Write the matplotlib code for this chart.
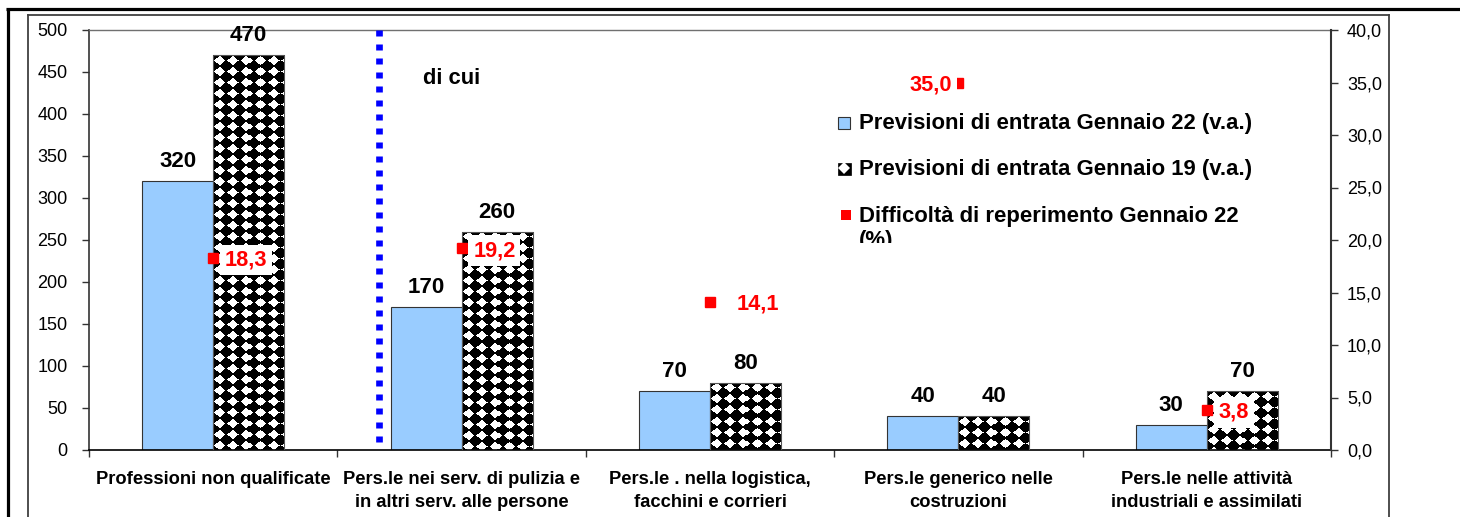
import numpy as np
import matplotlib
matplotlib.use('Agg')
import matplotlib.pyplot as plt
from matplotlib.patches import Rectangle
from matplotlib.lines import Line2D
from matplotlib.transforms import Bbox, TransformedBbox
from matplotlib.ticker import FixedLocator, FuncFormatter

plt.rcParams['font.family'] = ['Liberation Sans', 'DejaVu Sans']

# ---------------- data ----------------
categories = ["Professioni non qualificate",
              "Pers.le nei serv. di pulizia e\nin altri serv. alle persone",
              "Pers.le . nella logistica,\nfacchini e corrieri",
              "Pers.le generico nelle\ncostruzioni",
              "Pers.le nelle attività\nindustriali e assimilati"]
prev_gen22 = [320, 170, 70, 40, 30]
prev_gen19 = [470, 260, 80, 40, 70]
difficolta = [18.3, 19.2, 14.1, 35.0, 3.8]
left_ticks = [0, 50, 100, 150, 200, 250, 300, 350, 400, 450, 500]
right_ticks = [0, 5, 10, 15, 20, 25, 30, 35, 40]
series_labels = ["Previsioni di entrata Gennaio 22 (v.a.)",
                 "Previsioni di entrata Gennaio 19 (v.a.)",
                 "Difficoltà di reperimento Gennaio 22\n(%)"]
divider_text = "di cui"

# ---------------- layout helpers ----------------
W, H = 1460, 517
fig = plt.figure(figsize=(W / 100, H / 100), dpi=100)


def fx(px):
    return px / W


def fy(py):
    return 1 - py / H


BLUE = '#99CCFF'
RED = '#FF0000'

# outer decorative frames
fig.add_artist(Line2D([fx(6), 1], [fy(9), fy(9)], color='black', lw=2.3, solid_capstyle='butt'))
fig.add_artist(Line2D([fx(8), fx(8)], [fy(8), 0], color='black', lw=2.3, solid_capstyle='butt'))
fig.add_artist(Line2D([fx(28), fx(1389)], [fy(15), fy(15)], color='#404040', lw=1.3))
fig.add_artist(Line2D([fx(28), fx(28)], [fy(15), 0], color='#404040', lw=1.3))
fig.add_artist(Line2D([fx(1389), fx(1389)], [fy(15), 0], color='#404040', lw=1.3))

ax = fig.add_axes([fx(89), fy(450), fx(1331) - fx(89), fy(30) - fy(450)])
n = len(categories)
x = np.arange(n)
bw = 0.286
ax.set_xlim(-0.5, n - 0.5)
ax.set_ylim(0, 500)

bars22 = ax.bar(x - bw / 2, prev_gen22, width=bw, color=BLUE, edgecolor='#333333', lw=0.8, zorder=1)
bars19 = ax.bar(x + bw / 2, prev_gen19, width=bw, color='black', edgecolor='none', lw=0, zorder=1)


def diamond_texture(h, w, px=13.3, py=11.0, thr=0.86):
    yy, xx = np.mgrid[0:h, 0:w] + 0.5
    dx = (xx / px) % 1 - 0.5
    dy = (yy / py) % 1 - 0.5
    d = 2 * np.abs(dx) + 2 * np.abs(dy)
    return (d < thr).astype(float)


for rect in bars19.patches:
    x0, y0 = rect.get_x(), rect.get_y()
    w_, h_ = rect.get_width(), rect.get_height()
    (p0x, p0y), (p1x, p1y) = ax.transData.transform([(x0, y0), (x0 + w_, y0 + h_)])
    nw = max(1, int(round(p1x - p0x)))
    nh = max(1, int(round(p1y - p0y)))
    im = ax.imshow(diamond_texture(nh, nw), cmap='gray', vmin=0, vmax=1,
                   extent=(x0, x0 + w_, y0, y0 + h_), origin='upper',
                   aspect='auto', interpolation='nearest', zorder=2)
    im.set_clip_path(rect)

ax.bar(x + bw / 2, prev_gen19, width=bw, fill=False, edgecolor='#555555', lw=0.8, zorder=3)
ax.set_xlim(-0.5, n - 0.5)
ax.set_ylim(0, 500)
ax.set_aspect('auto')

ax.bar_label(bars22, padding=6.5, fontsize=16, fontweight='bold')
ax.bar_label(bars19, padding=6.5, fontsize=16, fontweight='bold')

# divider (drawn top-down so a dot starts at the top edge)
div_x = 0.669
div_line = ax.axvline(div_x, color='#0000FF', lw=4.8, linestyle=(0, (0.9, 1.2)),
                      dash_capstyle='butt', zorder=4)
div_line.set_ydata([1, 0])
ax.annotate(divider_text, xy=(div_x, 1), xycoords=('data', 'axes fraction'),
            xytext=(44, -38), textcoords='offset pixels', fontsize=15.8,
            fontweight='bold', ha='left', va='top')

# axes styling
ax.yaxis.set_major_locator(FixedLocator(left_ticks))
ax.tick_params(axis='y', direction='out', length=5, width=1, pad=10.5,
               labelsize=13, color='#333333')
ax.set_xticks(x)
ax.set_xticklabels(categories, fontsize=13.2, fontweight='bold', linespacing=1.5)
ax.tick_params(axis='x', which='major', length=0, pad=15)
ax.set_xticks(np.arange(-0.5, n, 1.0), minor=True)
ax.tick_params(axis='x', which='minor', direction='out', length=5, width=1, color='#333333')
ax.spines['left'].set_color('#333333')
ax.spines['left'].set_linewidth(1.2)
ax.spines['bottom'].set_color('black')
ax.spines['bottom'].set_linewidth(1.2)
ax.spines['top'].set_color('#707070')
ax.spines['top'].set_linewidth(1.0)
ax.spines['right'].set_visible(False)

ax2 = ax.twinx()
ax2.set_ylim(0, 40)
ax2.yaxis.set_major_locator(FixedLocator(right_ticks))
ax2.yaxis.set_major_formatter(FuncFormatter(lambda v, p: f"{v:.1f}".replace('.', ',')))
ax2.tick_params(axis='y', direction='out', length=5, width=1, pad=6.5,
                labelsize=13, color='#333333')
ax2.spines['right'].set_color('#333333')
ax2.spines['right'].set_linewidth(1.5)
for s in ('left', 'top', 'bottom'):
    ax2.spines[s].set_visible(False)

ax2.plot(x, difficolta, linestyle='none', marker='s', ms=6.5, color=RED, zorder=2)
label_offsets = [(8.3, 'left'), (8.3, 'left'), (19.5, 'left'), (-4.7, 'right'), (8.3, 'left')]
for xi, v, (dx, ha) in zip(x, difficolta, label_offsets):
    ax2.annotate(f"{v:.1f}".replace('.', ','), xy=(xi, v), xytext=(dx, -5.6),
                 textcoords='offset points', ha=ha, va='baseline', fontsize=15.7,
                 fontweight='bold', color=RED, zorder=3,
                 bbox=dict(boxstyle='square,pad=0.22', fc='white', ec='none'))

# manual legend (layout only)
fig.add_artist(Rectangle((fx(838), fy(129)), fx(12), 12 / H, facecolor=BLUE,
                         edgecolor='#333333', lw=0.8))
fig.add_artist(Rectangle((fx(838), fy(175)), fx(13), 12 / H, facecolor='black',
                         edgecolor='black', lw=0.5))
fig.add_artist(Line2D([fx(843.5)], [fy(168)], marker='D', ms=6.2, color='white',
                      markeredgewidth=0, linestyle='none'))
fig.add_artist(Line2D([fx(845.5)], [fy(215)], marker='s', ms=6.5, color=RED,
                      markeredgewidth=0, linestyle='none'))
leg_base = [129, 175, 221.7]
line_step = 24
clip = TransformedBbox(Bbox.from_extents(0, fy(243), 1, 1), fig.transFigure)
for lab, yb in zip(series_labels, leg_base):
    for k, line in enumerate(lab.split('\n')):
        t = fig.text(fx(859), fy(yb + k * line_step), line, fontsize=15.9,
                     fontweight='bold', ha='left', va='baseline')
        t.set_clip_box(clip)
        t.set_clip_on(True)

fig.savefig('out.png', dpi=100)
